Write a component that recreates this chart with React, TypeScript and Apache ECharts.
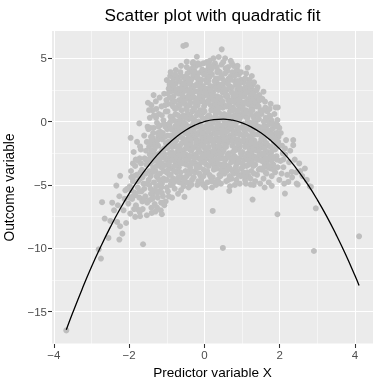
import { useEffect, useRef } from 'react';
import * as echarts from 'echarts';

const TITLE = 'Scatter plot with quadratic fit';
const X_NAME = 'Predictor variable X';
const Y_NAME = 'Outcome variable';

const xTicks = [-4, -2, 0, 2, 4];
const xMinor = [-3, -1, 1, 3];
const yTicks = [-15, -10, -5, 0, 5];
const yMinor = [-17.5, -12.5, -7.5, -2.5, 2.5];

// fitted quadratic curve
const fitX = [-3.67, -3.5, -3.25, -3.0, -2.75, -2.5, -2.25, -2.0, -1.75, -1.5, -1.25, -1.0, -0.75, -0.5, -0.25, 0, 0.25, 0.5, 0.75, 1.0, 1.25, 1.5, 1.75, 2.0, 2.25, 2.5, 2.75, 3.0, 3.25, 3.5, 3.75, 4.0, 4.11];
const fitY = [-16.43, -15.09, -13.22, -11.46, -9.84, -8.33, -6.94, -5.68, -4.54, -3.53, -2.63, -1.86, -1.21, -0.68, -0.28, 0.0, 0.16, 0.2, 0.11, -0.1, -0.43, -0.88, -1.46, -2.15, -2.98, -3.92, -4.98, -6.17, -7.48, -8.92, -10.47, -12.15, -12.93];

const pointsLeftTail = [
  [-3.67, -16.48], [-2.81, -10.08], [-2.75, -10.81], [-2.72, -6.36], [-2.65, -7.65], [-2.5, -7.84], [-2.55, -9.18],
  [-2.32, -7.92], [-2.24, -8.26], [-2.18, -8.84], [-2.26, -9.31], [-2.34, -5.05], [-2.26, -5.89], [-2.15, -7.0],
  [-1.97, -7.26], [-1.84, -7.52], [-1.71, -7.47], [-1.72, -7.13], [-1.53, -7.39], [-1.63, -9.68], [-2.02, -6.47],
  [-2.1, -5.42], [-2.24, -4.28], [-1.93, -4.36], [-1.9, -3.3], [-1.72, -2.89], [-1.96, -1.28], [-1.73, -0.14],
  [-1.5, 1.49], [-1.49, -0.59], [-1.71, -1.96], [-1.53, -1.6], [-2.4, -7.0], [-2.3, -6.6], [-2.12, -6.1],
  [-2.05, -5.3], [-2.08, -8.0], [-2.45, -6.4],
];

const pointsLeft = [
  [-1.98, -5.1], [-1.95, -3.9], [-1.92, -6.1], [-1.9, -4.7], [-1.88, -2.4], [-1.86, -5.6], [-1.84, -3.5], [-1.82, -6.6],
  [-1.8, -4.2], [-1.79, -1.6], [-1.77, -5.2], [-1.75, -3.1], [-1.73, -6.0], [-1.71, -4.5], [-1.69, -2.2], [-1.67, -5.5],
  [-1.66, -3.8], [-1.64, -6.9], [-1.62, -4.9], [-1.6, -1.1], [-1.59, -2.9], [-1.57, -5.9], [-1.56, -4.1], [-1.54, -3.4],
  [-1.52, -6.4], [-1.51, -0.4], [-1.6, -5.3], [-1.7, -4.0], [-1.83, -5.8], [-1.94, -4.4], [-1.55, -2.3], [-1.65, -6.3],
  [-1.78, -6.9], [-1.87, -6.9],
  [-1.48, -4.6], [-1.47, -2.0], [-1.46, -6.2], [-1.45, 0.3], [-1.44, -3.3], [-1.43, -5.3], [-1.42, -1.2], [-1.41, -6.8],
  [-1.4, -4.0], [-1.39, -2.7], [-1.38, 0.9], [-1.37, -5.8], [-1.36, -3.6], [-1.35, -0.5], [-1.34, -4.8], [-1.33, -2.2],
  [-1.32, -6.5], [-1.31, -1.6], [-1.3, -3.9], [-1.29, 1.6], [-1.28, -5.1], [-1.27, -2.9], [-1.26, -0.1], [-1.25, -4.4],
  [-1.24, -6.0], [-1.23, -1.9], [-1.22, -3.2], [-1.21, 0.6], [-1.2, -5.5], [-1.19, -2.5], [-1.18, -4.1], [-1.17, -0.8],
  [-1.16, -7.0], [-1.15, -3.6], [-1.14, 1.2], [-1.13, -4.9], [-1.12, -1.4], [-1.11, -2.8], [-1.1, -5.9], [-1.09, 0.1],
  [-1.08, -3.9], [-1.07, 2.2], [-1.06, -2.1], [-1.05, -4.6], [-1.04, -0.4], [-1.03, -6.3], [-1.02, -3.0], [-1.01, 1.7],
  [-1.0, -5.2], [-1.46, -3.9], [-1.33, -3.0], [-1.19, -5.0], [-1.27, -4.3], [-1.12, -2.2], [-1.38, -1.8], [-1.24, -0.9],
  [-1.05, -1.2], [-1.42, -5.7], [-1.15, -6.4], [-1.3, -7.1],
  [-1.13, -7.31], [-1.26, -6.78], [-1.4, -7.21], [-1.09, -6.42], [-1.13, -5.63], [-1.35, 2.09],
];

const pointsCenterLeft = [
  [-0.99, -3.4], [-0.98, 0.8], [-0.97, -5.5], [-0.96, -1.6], [-0.95, 2.6], [-0.94, -4.2], [-0.93, -0.3], [-0.92, -2.5],
  [-0.91, 3.6], [-0.9, -5.0], [-0.89, -1.1], [-0.88, 1.4], [-0.87, -3.7], [-0.86, -6.0], [-0.85, -2.0], [-0.84, 0.4],
  [-0.83, -4.5], [-0.82, 2.0], [-0.81, -2.9], [-0.8, -0.8], [-0.79, -5.3], [-0.78, 1.0], [-0.77, -3.2], [-0.76, 3.0],
  [-0.75, -1.5], [-0.74, -4.0], [-0.73, 0.0], [-0.72, -2.4], [-0.71, 2.4], [-0.7, -5.7], [-0.69, -0.6], [-0.68, -3.6],
  [-0.67, 1.7], [-0.66, -4.8], [-0.65, -1.9], [-0.64, 3.9], [-0.63, -0.2], [-0.62, -2.8], [-0.61, 0.9], [-0.6, -4.4],
  [-0.59, 2.9], [-0.58, -1.3], [-0.57, -3.3], [-0.56, 0.5], [-0.55, -5.1], [-0.54, 1.9], [-0.53, -2.2], [-0.52, 3.4],
  [-0.51, -0.9], [-0.5, -3.9], [-0.95, -2.9], [-0.88, -4.7], [-0.81, -1.2], [-0.74, -2.0], [-0.67, -3.0], [-0.6, -1.7],
  [-0.53, -4.6], [-0.92, 1.9], [-0.78, -0.4], [-0.64, 0.3], [-0.57, 2.3], [-0.85, 3.1], [-0.71, -3.9], [-0.99, -0.6],
  [-0.62, -5.4], [-0.87, -2.4], [-0.69, 1.3],
  [-0.49, -2.6], [-0.48, 1.1], [-0.47, -4.3], [-0.46, 3.1], [-0.45, -0.7], [-0.44, -3.0], [-0.43, 2.0], [-0.42, -5.2],
  [-0.41, 0.2], [-0.4, -1.8], [-0.39, 4.1], [-0.38, -3.6], [-0.37, 1.5], [-0.36, -0.4], [-0.35, -2.3], [-0.34, 2.7],
  [-0.33, -4.6], [-0.32, 0.8], [-0.31, -1.2], [-0.3, 3.6], [-0.29, -3.2], [-0.28, -0.1], [-0.27, 1.9], [-0.26, -2.0],
  [-0.25, -4.0], [-0.24, 2.4], [-0.23, -0.9], [-0.22, 4.4], [-0.21, -2.8], [-0.2, 0.5], [-0.19, -5.0], [-0.18, 1.3],
  [-0.17, -1.5], [-0.16, 3.2], [-0.15, -3.4], [-0.14, -0.2], [-0.13, 2.2], [-0.12, -2.4], [-0.11, 0.9], [-0.1, -4.3],
  [-0.09, 3.9], [-0.08, -1.0], [-0.07, 1.7], [-0.06, -3.0], [-0.05, 0.3], [-0.04, 2.8], [-0.03, -1.9], [-0.02, -3.8],
  [-0.01, 1.2], [-0.46, -1.4], [-0.41, -3.9], [-0.36, 2.3], [-0.31, -2.7], [-0.26, 0.1], [-0.21, -1.1], [-0.16, -4.7],
  [-0.11, 1.6], [-0.06, -0.6], [-0.01, -2.5], [-0.44, 0.6], [-0.34, -0.9], [-0.24, -3.3], [-0.14, -2.9], [-0.04, -1.4],
  [-0.39, -2.2], [-0.29, 1.0], [-0.19, 2.9], [-0.09, -0.3], [-0.45, 3.8], [-0.27, 4.0], [-0.12, 4.5], [-0.35, -5.0],
  [-0.05, -4.9], [-0.2, -3.7], [-0.48, -3.4],
  [-0.53, -5.94], [-0.03, -5.0], [-0.36, -4.94], [-0.56, 5.97], [-0.49, 6.05], [-0.2, 5.12], [-0.47, 4.73],
  [-0.31, 4.6], [-0.03, 4.6], [-0.76, 4.07], [-1.0, 3.28], [-0.82, 3.41],
];

const pointsCenterRight = [
  [0.01, -2.1], [0.02, 1.4], [0.03, -4.0], [0.04, 3.3], [0.05, -0.5], [0.06, -2.9], [0.07, 2.1], [0.08, -4.8],
  [0.09, 0.4], [0.1, -1.6], [0.11, 4.2], [0.12, -3.5], [0.13, 1.8], [0.14, -0.2], [0.15, -2.4], [0.16, 2.8],
  [0.17, -4.4], [0.18, 0.9], [0.19, -1.0], [0.2, 3.7], [0.21, -3.1], [0.22, -0.1], [0.23, 2.3], [0.24, -1.8],
  [0.25, -3.8], [0.26, 1.2], [0.27, -0.8], [0.28, 4.6], [0.29, -2.6], [0.3, 0.6], [0.31, -5.0], [0.32, 1.6],
  [0.33, -1.3], [0.34, 3.0], [0.35, -3.3], [0.36, 0.0], [0.37, 2.5], [0.38, -2.2], [0.39, 0.7], [0.4, -4.2],
  [0.41, 3.9], [0.42, -0.9], [0.43, 1.9], [0.44, -2.9], [0.45, 0.3], [0.46, 2.7], [0.47, -1.6], [0.48, -3.6],
  [0.49, 1.1], [0.05, -3.4], [0.1, 2.6], [0.15, -1.2], [0.2, -2.8], [0.25, 0.3], [0.3, -1.5], [0.35, -4.6],
  [0.4, 1.4], [0.45, -0.5], [0.02, 0.2], [0.12, -0.6], [0.22, -4.4], [0.32, -3.0], [0.42, -2.0], [0.07, -1.3],
  [0.17, 1.3], [0.27, 2.0], [0.37, -0.6], [0.47, 3.4], [0.14, 4.8], [0.33, 4.3], [0.03, -5.2], [0.27, -3.6],
  [0.44, -4.9], [0.09, 3.6], [0.38, 5.1],
  [0.51, -2.3], [0.52, 1.3], [0.53, -4.1], [0.54, 3.2], [0.55, -0.6], [0.56, -3.0], [0.57, 2.0], [0.58, -4.7],
  [0.59, 0.5], [0.6, -1.7], [0.61, 4.0], [0.62, -3.5], [0.63, 1.7], [0.64, -0.3], [0.65, -2.5], [0.66, 2.8],
  [0.67, -4.3], [0.68, 0.8], [0.69, -1.1], [0.7, 3.6], [0.71, -3.2], [0.72, -0.1], [0.73, 2.3], [0.74, -1.9],
  [0.75, -3.9], [0.76, 1.1], [0.77, -0.8], [0.78, 4.4], [0.79, -2.7], [0.8, 0.5], [0.81, -5.0], [0.82, 1.5],
  [0.83, -1.4], [0.84, 2.9], [0.85, -3.4], [0.86, 0.0], [0.87, 2.5], [0.88, -2.2], [0.89, 0.7], [0.9, -4.2],
  [0.91, 3.7], [0.92, -0.9], [0.93, 1.9], [0.94, -2.9], [0.95, 0.3], [0.96, 2.6], [0.97, -1.6], [0.98, -3.7],
  [0.99, 1.0], [0.55, -3.7], [0.6, 2.5], [0.65, -1.3], [0.7, -2.9], [0.75, 0.2], [0.8, -1.6], [0.85, -4.6],
  [0.9, 1.3], [0.95, -0.5], [0.52, 0.1], [0.62, -0.7], [0.72, -4.5], [0.82, -3.0], [0.92, -2.1], [0.57, -1.2],
  [0.67, 1.2], [0.77, 2.0], [0.87, -0.6], [0.97, 3.3], [0.63, 4.3], [0.84, 3.9], [0.68, -5.1], [0.94, -4.9],
  [0.22, -7.05], [0.49, -9.97], [0.2, -5.2], [0.66, -5.47], [0.37, -4.76], [0.46, 5.7], [0.55, 5.0], [0.73, 4.6],
];

const pointsRight = [
  [1.01, -2.4], [1.02, 1.2], [1.03, -4.0], [1.04, 3.1], [1.05, -0.6], [1.06, -3.0], [1.07, 2.0], [1.08, -4.6],
  [1.09, 0.4], [1.1, -1.7], [1.11, 3.8], [1.12, -3.5], [1.13, 1.6], [1.14, -0.3], [1.15, -2.5], [1.16, 2.6],
  [1.17, -4.3], [1.18, 0.8], [1.19, -1.2], [1.2, 3.3], [1.21, -3.2], [1.22, -0.1], [1.23, 2.1], [1.24, -1.9],
  [1.25, -3.9], [1.26, 1.0], [1.27, -0.9], [1.28, 2.9], [1.29, -2.7], [1.3, 0.4], [1.31, -5.0], [1.32, 1.4],
  [1.33, -1.5], [1.34, 2.4], [1.35, -3.4], [1.36, -0.1], [1.37, 1.9], [1.38, -2.3], [1.39, 0.6], [1.4, -4.2],
  [1.41, 2.7], [1.42, -1.0], [1.43, 1.6], [1.44, -3.0], [1.45, 0.2], [1.46, 2.1], [1.47, -1.7], [1.48, -3.7],
  [1.49, 0.9], [1.05, -1.4], [1.15, 0.0], [1.25, -2.4], [1.35, -4.7], [1.45, -2.2], [1.1, -4.9], [1.2, -0.6],
  [1.3, -3.5], [1.4, -0.5], [1.08, 2.7], [1.18, -2.9],
  [1.51, -2.0], [1.52, 0.6], [1.53, -3.8], [1.54, 1.8], [1.55, -0.8], [1.56, -2.9], [1.57, -4.5], [1.58, 0.0],
  [1.59, -1.5], [1.6, -3.3], [1.62, 1.1], [1.63, -2.4], [1.64, -0.4], [1.65, -4.1], [1.66, -1.1], [1.67, 0.8],
  [1.68, -3.0], [1.7, -1.9], [1.71, -4.8], [1.72, -0.2], [1.74, -2.6], [1.75, -3.7], [1.76, 1.4], [1.77, -1.3],
  [1.79, -4.3], [1.8, -0.6], [1.82, -2.2], [1.83, -3.4], [1.85, -1.6], [1.86, 0.6], [1.88, -4.0], [1.9, -2.9],
  [1.91, -0.9], [1.93, -2.0], [1.95, -3.6], [1.97, -1.2], [1.99, -4.6], [1.6, -5.2], [1.78, 0.1], [1.53, -1.2],
  [1.69, -2.4],
  [1.23, -4.97], [1.28, -6.15], [1.15, 4.25], [1.21, 2.89], [1.39, 2.49], [1.48, -4.89],
];

const pointsRightTail = [
  [1.79, -5.07], [2.23, -4.76], [2.48, -4.97], [2.83, -5.15], [2.14, -5.68], [1.94, -7.31], [2.96, -6.84],
  [2.91, -10.21], [4.11, -9.05], [1.57, 2.36], [1.61, 1.57], [1.89, 1.12], [1.95, 1.12], [1.74, 0.46], [1.94, 0.12],
  [1.94, -0.28], [2.17, -1.46], [2.36, -1.46], [2.36, -1.86], [2.14, -2.12], [1.92, -2.73], [2.1, -2.99], [2.52, -3.3],
  [2.67, -3.7], [2.32, -3.97], [2.05, -4.1], [2.45, -4.89], [2.8, -5.1], [1.64, -3.25],
  [2.02, -3.1], [2.06, -1.9], [2.1, -3.6], [2.15, -2.6], [2.2, -4.2], [2.25, -3.2], [2.28, -2.3], [2.33, -4.4],
  [2.4, -3.0], [2.44, -4.0], [2.03, -0.9], [2.12, -4.9], [2.08, -2.5], [2.6, -4.3], [2.72, -4.6], [2.55, -3.9],
];

const pointsFillLeft = [
  [-1.985, -6.0], [-1.945, -5.4], [-1.905, -5.9], [-1.865, -4.3], [-1.825, -3.0], [-1.765, -4.7], [-1.725, -5.5],
  [-1.685, -3.3], [-1.645, -4.4], [-1.605, -6.1], [-1.565, -3.0], [-1.525, -4.9],
  [-1.485, -3.0], [-1.465, -5.0], [-1.445, -1.6], [-1.425, -4.3], [-1.405, -2.3], [-1.385, -6.1], [-1.365, -0.9],
  [-1.345, -3.9], [-1.325, -5.4], [-1.305, -2.6], [-1.285, 0.3], [-1.265, -3.5], [-1.245, -5.6], [-1.225, -1.2],
  [-1.205, -4.6], [-1.185, -0.3], [-1.165, -2.9], [-1.145, -5.2], [-1.125, -3.3], [-1.105, -0.9], [-1.085, -4.5],
  [-1.065, -6.6], [-1.045, -2.6], [-1.025, 0.8], [-1.005, -4.0],
  [-0.995, -4.6], [-0.985, -2.1], [-0.975, 1.4], [-0.965, -3.8], [-0.955, -0.2], [-0.945, -5.9], [-0.935, -1.9],
  [-0.925, 2.9], [-0.915, -3.1], [-0.905, 0.4], [-0.895, -4.2], [-0.885, -0.6], [-0.875, 2.4], [-0.865, -3.0],
  [-0.855, -1.3], [-0.845, -5.0], [-0.835, 1.2], [-0.825, -2.5], [-0.815, 0.1], [-0.805, -3.9], [-0.795, 2.6],
  [-0.785, -1.8], [-0.775, -4.7], [-0.765, 0.6], [-0.755, -2.8], [-0.745, 3.6], [-0.735, -0.9], [-0.725, -3.4],
  [-0.715, 1.1], [-0.705, -2.0], [-0.695, -4.4], [-0.685, 2.2], [-0.675, -0.2], [-0.665, -2.6], [-0.655, 3.2],
  [-0.645, -1.2], [-0.635, -4.0], [-0.625, 1.5], [-0.615, -3.2], [-0.605, 0.0], [-0.595, -2.3], [-0.585, 2.0],
  [-0.575, -4.9], [-0.565, -0.5], [-0.545, 3.0], [-0.525, -1.6], [-0.515, 1.4], [-0.505, -2.9],
];

const pointsFillCenter = [
  [-0.495, -0.2], [-0.485, 2.6], [-0.475, -2.0], [-0.465, 0.9], [-0.455, -4.8], [-0.445, 1.8], [-0.435, -1.0],
  [-0.425, 3.4], [-0.415, -2.9], [-0.405, -0.5], [-0.395, 1.3], [-0.385, -4.1], [-0.375, 3.0], [-0.365, -1.7],
  [-0.355, 0.4], [-0.345, -3.3], [-0.335, 1.9], [-0.325, -0.7], [-0.315, 4.2], [-0.305, -2.1], [-0.295, 0.2],
  [-0.285, -4.4], [-0.275, 2.8], [-0.265, -1.3], [-0.255, 1.1], [-0.245, -2.6], [-0.235, 3.5], [-0.225, -0.4],
  [-0.215, -3.5], [-0.205, 1.7], [-0.195, -1.8], [-0.185, 0.7], [-0.175, 3.8], [-0.165, -2.4], [-0.155, 0.0],
  [-0.145, 2.4], [-0.135, -4.1], [-0.125, -0.8], [-0.115, 3.1], [-0.105, -1.7], [-0.095, 0.5], [-0.085, -3.2],
  [-0.075, 2.4], [-0.065, -1.2], [-0.055, 4.1], [-0.045, -2.7], [-0.035, 0.7], [-0.025, -4.3], [-0.015, 2.0],
  [-0.005, -0.9], [-0.47, 4.3], [-0.33, 3.9], [-0.17, 4.6], [-0.42, -3.0], [-0.08, -4.6],
  [0.005, 0.8], [0.015, -3.0], [0.025, 2.6], [0.035, -1.1], [0.045, 4.0], [0.055, -2.3], [0.065, 0.1],
  [0.075, -3.9], [0.085, 1.6], [0.095, -0.8], [0.105, 3.2], [0.115, -2.0], [0.125, 0.5], [0.135, -4.2],
  [0.145, 2.2], [0.155, -0.4], [0.165, 3.9], [0.175, -2.6], [0.185, 0.2], [0.195, 1.9], [0.205, -1.5],
  [0.215, 4.4], [0.225, -3.3], [0.235, 0.9], [0.245, -0.6], [0.255, 2.8], [0.265, -2.0], [0.275, -4.8],
  [0.285, 1.4], [0.295, -1.0], [0.305, 3.4], [0.315, -2.4], [0.325, 0.3], [0.335, -3.7], [0.345, 2.0],
  [0.355, -0.9], [0.365, 4.0], [0.375, -1.9], [0.385, 1.1], [0.395, -2.9], [0.405, 2.9], [0.415, -0.3],
  [0.425, -4.3], [0.435, 1.5], [0.445, -1.3], [0.455, 4.5], [0.465, -2.5], [0.475, 0.4], [0.485, 2.3],
  [0.495, -1.0], [0.06, 4.7], [0.24, 5.0], [0.43, -3.4], [0.18, -4.7], [0.36, 3.4],
  [0.505, 3.0], [0.515, -1.4], [0.525, 0.6], [0.535, -3.3], [0.545, 2.4], [0.555, -0.1], [0.565, 4.2],
  [0.575, -2.0], [0.585, 1.2], [0.595, -3.9], [0.605, 0.0], [0.615, 2.0], [0.625, -1.6], [0.635, -4.6],
  [0.645, 3.4], [0.655, -0.6], [0.665, 1.4], [0.675, -2.8], [0.685, 0.4], [0.695, 2.7], [0.705, -1.3],
  [0.715, -3.8], [0.725, 1.7], [0.735, -0.4], [0.745, 3.9], [0.755, -2.4], [0.765, 0.9], [0.775, -4.1],
  [0.785, 2.1], [0.795, -1.0], [0.805, 3.2], [0.815, -2.1], [0.825, 0.2], [0.835, -3.6], [0.845, 1.8],
  [0.855, -0.9], [0.865, 4.1], [0.875, -2.9], [0.885, 0.9], [0.895, -1.4], [0.905, 2.2], [0.915, -3.2],
  [0.925, 0.1], [0.935, 3.0], [0.945, -1.9], [0.955, 1.6], [0.965, -4.3], [0.975, 0.5], [0.985, 2.3],
  [0.995, -2.6],
];

const pointsFillRight = [
  [1.005, 0.6], [1.015, -3.3], [1.025, 2.5], [1.035, -1.1], [1.045, 0.8], [1.055, -4.3], [1.065, 1.5],
  [1.075, -0.8], [1.085, 3.4], [1.095, -2.8], [1.105, 0.9], [1.115, -1.9], [1.125, 2.3], [1.135, -4.0],
  [1.145, 0.3], [1.155, -1.5], [1.165, 3.0], [1.175, -3.4], [1.185, 1.8], [1.195, -0.5], [1.205, -2.2],
  [1.215, 1.3], [1.225, -4.5], [1.235, 0.6], [1.245, 2.6], [1.255, -1.3], [1.265, -3.1], [1.275, 0.9],
  [1.285, -0.4], [1.295, 1.9], [1.305, -2.1], [1.315, -4.1], [1.325, 0.2], [1.345, -1.0], [1.365, -2.8],
  [1.385, 1.2], [1.405, -1.9], [1.425, 0.5], [1.445, -3.8], [1.465, -0.9],
  [1.505, -0.5], [1.525, -3.1], [1.545, -1.9], [1.565, 0.9], [1.585, -2.6], [1.605, -0.8], [1.625, -4.0],
  [1.645, -1.7], [1.665, 0.1], [1.685, -3.6], [1.705, -0.9], [1.725, -2.9], [1.745, 0.4], [1.765, -2.0],
  [1.785, -3.1], [1.815, -1.0], [1.845, -2.8], [1.875, -0.2], [1.905, -1.8], [1.945, -0.9],
];

const pointsCoreUpper = [
  [-1.47, 0.9], [-1.44, -0.5], [-1.41, 1.3], [-1.37, -1.3], [-1.34, 0.5], [-1.31, -2.0], [-1.28, 1.0], [-1.25, -1.5],
  [-1.22, -0.4], [-1.19, 1.9], [-1.16, -1.0], [-1.13, 0.5], [-1.1, -2.4], [-1.07, -0.2], [-1.04, 1.3], [-1.02, -1.7],
  [-1.45, -2.6], [-1.36, -3.1], [-1.23, -2.6], [-1.09, -3.5],
  [-0.97, 2.2], [-0.93, 3.1], [-0.89, 2.7], [-0.86, 1.8], [-0.83, 2.9], [-0.79, 1.6], [-0.75, 2.3], [-0.72, 3.4],
  [-0.68, 2.6], [-0.65, 1.3], [-0.61, 3.6], [-0.58, 2.6], [-0.55, 1.6], [-0.51, 2.9], [-0.48, 3.6], [-0.44, 2.4],
  [-0.41, 3.0], [-0.38, 1.9], [-0.35, 3.3], [-0.32, 2.2], [-0.28, 3.9], [-0.25, 1.5], [-0.22, 2.9], [-0.18, 3.5],
  [-0.15, 1.9], [-0.11, 2.7], [-0.08, 3.3], [-0.04, 1.6], [-0.01, 3.7], [0.03, 2.3], [0.06, 3.1], [0.1, 1.5],
  [0.13, 3.5], [0.17, 2.5], [0.2, 4.2], [0.24, 1.7], [0.27, 3.2], [0.31, 2.6], [0.34, 3.9], [0.38, 1.9],
  [0.41, 2.8], [0.45, 3.6], [0.48, 1.6], [0.52, 2.6], [0.55, 3.8], [0.59, 2.1], [0.62, 3.0], [0.66, 1.6],
  [0.69, 3.3], [0.73, 2.7], [0.76, 1.6], [0.8, 3.6], [0.83, 2.2], [0.87, 3.2], [0.9, 1.7], [0.94, 2.6],
  [0.97, 3.9], [1.01, 2.0], [1.04, 1.5], [1.08, 3.4], [1.11, 2.3], [1.15, 1.4], [1.18, 3.0], [1.22, 2.4],
  [1.25, 1.6], [1.29, 2.2], [1.32, 3.1], [1.36, 1.5], [1.4, 2.0], [1.44, 1.2], [1.47, 1.7], [-0.9, 3.9],
  [-0.62, 4.4], [-0.3, 4.7], [0.1, 4.5], [0.5, 4.7], [0.88, 4.4], [1.26, 3.6], [-0.78, 3.7], [0.7, 4.8],
];

const pointsCoreLower = [
  [-0.98, -1.1], [-0.94, -3.4], [-0.9, 0.0], [-0.86, -2.6], [-0.82, -1.7], [-0.79, -3.5], [-0.75, -0.3], [-0.72, -1.0],
  [-0.68, -2.2], [-0.64, -3.3], [-0.61, -0.8], [-0.57, -2.6], [-0.54, -0.1], [-0.5, -1.6], [-0.47, -3.0], [-0.43, -0.4],
  [-0.4, -2.7], [-0.36, -1.4], [-0.33, -3.9], [-0.29, -0.6], [-0.26, -2.9], [-0.22, -1.6], [-0.19, -0.4], [-0.15, -2.2],
  [-0.12, -3.6], [-0.08, -1.9], [-0.05, -0.9], [-0.01, -3.2], [0.03, -1.6], [0.06, -0.3], [0.1, -2.6], [0.13, -1.3],
  [0.17, -3.1], [0.2, -0.5], [0.24, -2.3], [0.27, -1.4], [0.31, -3.7], [0.34, -0.3], [0.38, -1.5], [0.41, -2.6],
  [0.45, -3.9], [0.48, -0.7], [0.52, -2.9], [0.55, -1.9], [0.59, -0.8], [0.62, -2.6], [0.66, -3.6], [0.69, -0.5],
  [0.73, -1.5], [0.76, -3.1], [0.8, -2.3], [0.83, -0.3], [0.87, -3.9], [0.9, -1.8], [0.94, -1.0], [0.97, -2.5],
  [1.01, -3.6], [1.04, -0.2], [1.08, -2.0], [1.11, -1.0], [1.15, -3.0], [1.18, -0.4], [1.22, -2.7], [1.25, -1.6],
  [1.29, -0.6], [1.32, -2.8], [1.36, -1.8], [1.4, -3.0], [1.44, -0.4], [1.47, -2.6], [-0.7, 0.5], [-0.3, -0.2],
  [0.1, 0.1], [0.5, -0.3], [0.9, 0.4], [1.3, -0.2], [-0.5, 0.3], [0.3, 0.9], [0.7, -0.2], [1.1, 0.7],
  [1.51, -1.4], [1.54, -2.5], [1.57, -0.4], [1.6, -2.1], [1.63, 0.3], [1.66, -2.9], [1.69, -0.7], [1.72, -3.5],
  [1.75, -1.0], [1.78, -2.4], [1.81, -0.2], [1.84, -3.8], [1.87, -1.3], [1.9, -0.4], [1.93, -3.0], [1.96, -1.6],
  [1.99, -0.5], [1.58, -3.6], [1.73, 1.0], [1.88, -2.2],
];

const FONT = '"Liberation Sans", Arial, Helvetica, sans-serif';
const fmt = (v: number) => String(v).replace('-', '\u2212');

export default function App() {
  const ref = useRef<HTMLDivElement>(null);
  useEffect(() => {
    if (!ref.current) return;
    const chart = echarts.init(ref.current, undefined, { renderer: 'svg' });
    const scatterData = [
      ...pointsLeftTail, ...pointsLeft, ...pointsCenterLeft, ...pointsCenterRight, ...pointsRight, ...pointsRightTail,
      ...pointsFillLeft, ...pointsFillCenter, ...pointsFillRight, ...pointsCoreUpper, ...pointsCoreLower,
    ];
    const fitData = fitX.map((x, i) => [x, fitY[i]]);
    const xRange = { min: -4.05, max: 4.48 };
    const yRange = { min: -17.55, max: 7.15 };
    const hiddenLine = { show: false, onZero: false };
    chart.setOption({
      animation: false,
      grid: {
        left: 52, right: 1, top: 31, bottom: 34, show: true, backgroundColor: '#EBEBEB', borderWidth: 0,
        containLabel: false, outerBoundsMode: 'none',
      },
      graphic: [
        {
          type: 'text', x: 212.5, y: 15,
          style: { text: TITLE, fill: '#000000', fontSize: 17.2, fontFamily: FONT, align: 'center', verticalAlign: 'middle' },
        },
      ],
      xAxis: [
        {
          type: 'value', ...xRange, position: 'bottom',
          axisLine: hiddenLine,
          axisTick: { show: true, customValues: xTicks, length: 4, lineStyle: { color: '#333333', width: 1.07 } },
          axisLabel: { customValues: xTicks, formatter: fmt, color: '#4D4D4D', fontSize: 11.5, fontFamily: FONT, margin: 5 },
          splitLine: { show: true, lineStyle: { color: '#FFFFFF', width: 1.07 } },
          name: X_NAME, nameLocation: 'middle', nameGap: 15,
          nameTextStyle: { color: '#000000', fontSize: 13.6, fontFamily: FONT, lineHeight: 14 },
        },
        {
          type: 'value', ...xRange, position: 'bottom',
          axisLine: hiddenLine,
          axisTick: { show: false, customValues: xMinor },
          axisLabel: { show: false, customValues: xMinor },
          splitLine: { show: true, lineStyle: { color: '#FFFFFF', width: 0.53 } },
        },
      ],
      yAxis: [
        {
          type: 'value', ...yRange, position: 'left',
          axisLine: hiddenLine,
          axisTick: { show: true, customValues: yTicks, length: 4, lineStyle: { color: '#333333', width: 1.07 } },
          axisLabel: { customValues: yTicks, formatter: fmt, color: '#4D4D4D', fontSize: 11.5, fontFamily: FONT, margin: 5 },
          splitLine: { show: true, lineStyle: { color: '#FFFFFF', width: 1.07 } },
          name: Y_NAME, nameLocation: 'middle', nameGap: 31,
          nameTextStyle: { color: '#000000', fontSize: 13.8, fontFamily: FONT },
        },
        {
          type: 'value', ...yRange, position: 'left',
          axisLine: hiddenLine,
          axisTick: { show: false, customValues: yMinor },
          axisLabel: { show: false, customValues: yMinor },
          splitLine: { show: true, lineStyle: { color: '#FFFFFF', width: 0.53 } },
        },
      ],
      series: [
        {
          type: 'scatter', xAxisIndex: 0, yAxisIndex: 0, data: scatterData, symbolSize: 6,
          itemStyle: { color: '#BEBEBE', opacity: 1 }, silent: true, z: 2,
        },
        {
          type: 'line', xAxisIndex: 0, yAxisIndex: 0, data: fitData, showSymbol: false, smooth: true,
          lineStyle: { color: '#000000', width: 1.3 }, silent: true, z: 3,
        },
      ],
    });
    return () => chart.dispose();
  }, []);
  return <div ref={ref} style={{ position: 'fixed', left: 0, top: 0, width: 374, height: 378 }} />;
}
